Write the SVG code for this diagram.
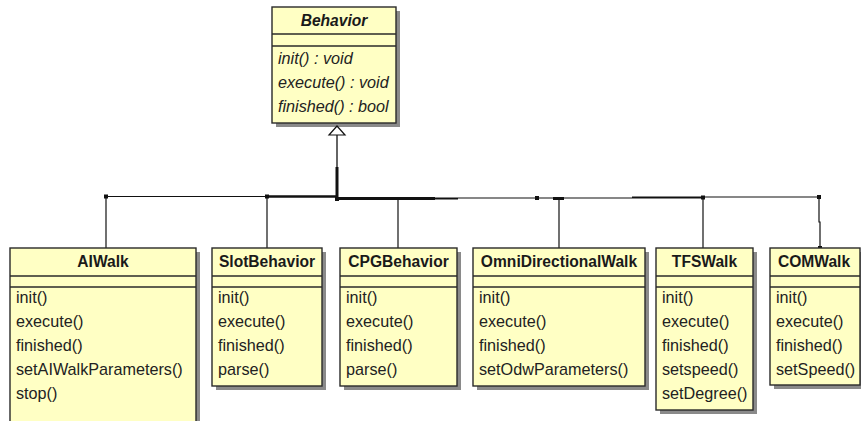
<svg xmlns="http://www.w3.org/2000/svg" width="861" height="421" viewBox="0 0 861 421">
  <style>
    .shadow { fill: #8a8a8a; }
    .box { fill: #ffffc4; stroke: #2a2a2a; stroke-width: 1.4; }
    .sep { stroke: #2a2a2a; stroke-width: 1.4; }
    .title { font-family: "Liberation Sans", Arial, sans-serif; font-size: 15.6px; font-weight: bold; fill: #1a1a1a; text-anchor: middle; }
    .op { font-family: "Liberation Sans", Arial, sans-serif; font-size: 16.2px; fill: #222222; }
    .abstract { font-style: italic; }
    .wire { stroke: #111111; fill: none; }
    .dot { fill: #111111; }
  </style>

  <!-- abstract base class -->
  <g id="Behavior">
    <rect class="shadow" x="276" y="11" width="124" height="116"/>
    <rect class="box" x="272" y="7" width="124" height="116"/>
    <line class="sep" x1="272" y1="34" x2="396" y2="34"/>
    <line class="sep" x1="272" y1="46" x2="396" y2="46"/>
    <text class="title abstract" x="334" y="26">Behavior</text>
    <text class="op abstract" x="278" y="64">init() : void</text>
    <text class="op abstract" x="278" y="88">execute() : void</text>
    <text class="op abstract" x="278" y="112">finished() : bool</text>
  </g>

  <!-- generalization tree -->
  <g id="connectors">
    <polygon points="337,126 329,135 345,135" fill="#ffffff" stroke="#111111" stroke-width="1.2"/>
    <line class="wire" x1="337" y1="135" x2="337" y2="168" stroke-width="1.3"/>
    <line class="wire" x1="337" y1="167" x2="337" y2="199" stroke-width="3"/>
    <!-- bus -->
    <line class="wire" x1="106" y1="196.5" x2="267" y2="196.5" stroke-width="1.2"/>
    <line class="wire" x1="267" y1="196.5" x2="337" y2="196.5" stroke-width="2.4"/>
    <line class="wire" x1="337" y1="198.5" x2="435" y2="198.5" stroke-width="3"/>
    <line class="wire" x1="435" y1="198.5" x2="458" y2="198.5" stroke-width="2"/>
    <line class="wire" x1="458" y1="198" x2="632" y2="198" stroke-width="1.2"/>
    <line class="wire" x1="553" y1="198.5" x2="564" y2="198.5" stroke-width="3"/>
    <line class="wire" x1="632" y1="197.5" x2="703" y2="197.5" stroke-width="2.2"/>
    <line class="wire" x1="703" y1="197" x2="819" y2="197" stroke-width="1.2"/>
    <!-- drops -->
    <line class="wire" x1="106" y1="196" x2="106" y2="248" stroke-width="1.2"/>
    <line class="wire" x1="267" y1="196" x2="267" y2="248" stroke-width="1.2"/>
    <line class="wire" x1="398" y1="199" x2="398" y2="248" stroke-width="1.2"/>
    <line class="wire" x1="559" y1="199" x2="559" y2="248" stroke-width="1.2"/>
    <line class="wire" x1="703" y1="197" x2="703" y2="248" stroke-width="1.2"/>
    <polyline class="wire" points="819,197 819,222 820,222 820,248" stroke-width="1.2"/>
    <!-- bend points -->
    <rect class="dot" x="104" y="194.5" width="4" height="4"/>
    <rect class="dot" x="265" y="194.5" width="4" height="4"/>
    <rect class="dot" x="335" y="197" width="4" height="4"/>
    <rect class="dot" x="535" y="196" width="4" height="4"/>
    <rect class="dot" x="701" y="195.5" width="4" height="4"/>
    <rect class="dot" x="817" y="195" width="4" height="4"/>
    <rect class="dot" x="818" y="246" width="4" height="4"/>
  </g>

  <g id="AIWalk">
    <rect class="shadow" x="14" y="252" width="186" height="180"/>
    <rect class="box" x="10" y="248" width="186" height="180"/>
    <line class="sep" x1="10" y1="276" x2="196" y2="276"/>
    <line class="sep" x1="10" y1="287" x2="196" y2="287"/>
    <text class="title" x="103" y="267">AIWalk</text>
    <text class="op" x="16" y="303">init()</text>
    <text class="op" x="16" y="327">execute()</text>
    <text class="op" x="16" y="351">finished()</text>
    <text class="op" x="16" y="375">setAIWalkParameters()</text>
    <text class="op" x="16" y="399">stop()</text>
  </g>

  <g id="SlotBehavior">
    <rect class="shadow" x="216" y="252" width="110" height="138"/>
    <rect class="box" x="212" y="248" width="110" height="138"/>
    <line class="sep" x1="212" y1="276" x2="322" y2="276"/>
    <line class="sep" x1="212" y1="287" x2="322" y2="287"/>
    <text class="title" x="267" y="267">SlotBehavior</text>
    <text class="op" x="218" y="303">init()</text>
    <text class="op" x="218" y="327">execute()</text>
    <text class="op" x="218" y="351">finished()</text>
    <text class="op" x="218" y="375">parse()</text>
  </g>

  <g id="CPGBehavior">
    <rect class="shadow" x="344" y="252" width="117" height="138"/>
    <rect class="box" x="340" y="248" width="117" height="138"/>
    <line class="sep" x1="340" y1="276" x2="457" y2="276"/>
    <line class="sep" x1="340" y1="287" x2="457" y2="287"/>
    <text class="title" x="398.5" y="267">CPGBehavior</text>
    <text class="op" x="346" y="303">init()</text>
    <text class="op" x="346" y="327">execute()</text>
    <text class="op" x="346" y="351">finished()</text>
    <text class="op" x="346" y="375">parse()</text>
  </g>

  <g id="OmniDirectionalWalk">
    <rect class="shadow" x="477" y="252" width="172" height="138"/>
    <rect class="box" x="473" y="248" width="172" height="138"/>
    <line class="sep" x1="473" y1="276" x2="645" y2="276"/>
    <line class="sep" x1="473" y1="287" x2="645" y2="287"/>
    <text class="title" x="559" y="267">OmniDirectionalWalk</text>
    <text class="op" x="479" y="303">init()</text>
    <text class="op" x="479" y="327">execute()</text>
    <text class="op" x="479" y="351">finished()</text>
    <text class="op" x="479" y="375">setOdwParameters()</text>
  </g>

  <g id="TFSWalk">
    <rect class="shadow" x="660" y="252" width="97" height="162"/>
    <rect class="box" x="656" y="248" width="97" height="162"/>
    <line class="sep" x1="656" y1="276" x2="753" y2="276"/>
    <line class="sep" x1="656" y1="287" x2="753" y2="287"/>
    <text class="title" x="704.5" y="267">TFSWalk</text>
    <text class="op" x="662" y="303">init()</text>
    <text class="op" x="662" y="327">execute()</text>
    <text class="op" x="662" y="351">finished()</text>
    <text class="op" x="662" y="375">setspeed()</text>
    <text class="op" x="662" y="399">setDegree()</text>
  </g>

  <g id="COMWalk">
    <rect class="shadow" x="774" y="252" width="90" height="137"/>
    <rect class="box" x="770" y="248" width="90" height="137"/>
    <line class="sep" x1="770" y1="276" x2="860" y2="276"/>
    <line class="sep" x1="770" y1="287" x2="860" y2="287"/>
    <text class="title" x="814" y="267">COMWalk</text>
    <text class="op" x="776" y="303">init()</text>
    <text class="op" x="776" y="327">execute()</text>
    <text class="op" x="776" y="351">finished()</text>
    <text class="op" x="776" y="375">setSpeed()</text>
  </g>
</svg>
